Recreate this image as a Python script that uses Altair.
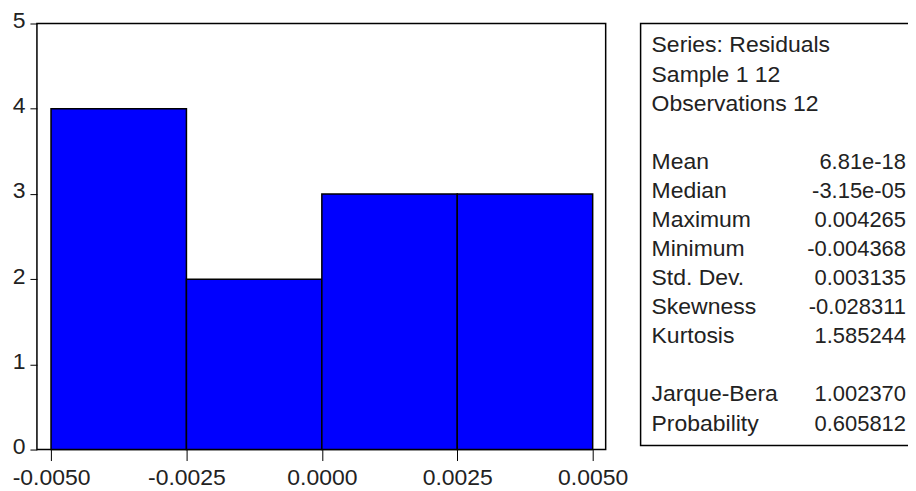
import altair as alt
import pandas as pd

# Histogram of residuals
bin_start = [-0.005, -0.0025, 0.0, 0.0025]
bin_end = [-0.0025, 0.0, 0.0025, 0.005]
counts = [4, 2, 3, 3]

x_ticks = [-0.005, -0.0025, 0.0, 0.0025, 0.005]
x_tick_labels = ["-0.0050", "-0.0025", "0.0000", "0.0025", "0.0050"]
y_ticks = [0, 1, 2, 3, 4, 5]

# Statistics panel
stat_labels = ["Series: Residuals", "Sample 1 12", "Observations 12",
               "Mean", "Median", "Maximum", "Minimum", "Std. Dev.",
               "Skewness", "Kurtosis", "Jarque-Bera", "Probability"]
stat_values = ["", "", "",
               "6.81e-18", "-3.15e-05", "0.004265", "-0.004368", "0.003135",
               "-0.028311", "1.585244", "1.002370", "0.605812"]
stat_rows = [0, 1, 2, 4, 5, 6, 7, 8, 9, 10, 12, 13]

FONT = "Liberation Sans"
FS = 23
TXT = "#222222"

hist_df = pd.DataFrame({"bin_start": bin_start, "bin_end": bin_end,
                        "count": counts, "base": [0] * len(counts)})
stats_df = pd.DataFrame({"label": stat_labels, "value": stat_values,
                         "row": stat_rows})

label_expr = "[{}][indexof([{}], datum.value)]".format(
    ",".join("'{}'".format(s) for s in x_tick_labels),
    ",".join(repr(v) for v in x_ticks))

hist = alt.Chart(hist_df).mark_rect(
    color="#0000FF", stroke="#000000", strokeWidth=1.5
).encode(
    x=alt.X("bin_start:Q",
            scale=alt.Scale(domain=[-0.00526, 0.00524], nice=False, zero=False),
            axis=alt.Axis(values=x_ticks, labelExpr=label_expr, title=None,
                          tickSize=11, labelPadding=6, domain=False, grid=False,
                          labelFlush=False, labelOverlap=False)),
    x2="bin_end:Q",
    y=alt.Y("count:Q",
            scale=alt.Scale(domain=[0, 5], nice=False),
            axis=alt.Axis(values=y_ticks, title=None, tickSize=7,
                          labelPadding=5, domain=False, grid=False,
                          labelFlush=False, labelOffset=-3, format="d")),
    y2="base:Q",
).properties(width=570, height=427)

base = alt.Chart(stats_df).encode(
    y=alt.Y("row:Q",
            scale=alt.Scale(domain=[-0.755, 13.755], reverse=True,
                            nice=False, zero=False),
            axis=None)
)
labels = base.mark_text(align="left", baseline="middle", font=FONT,
                        fontSize=FS, color=TXT).encode(
    x=alt.value(11), text="label:N")
values = base.mark_text(align="right", baseline="middle", font=FONT,
                        fontSize=22, color=TXT).encode(
    x=alt.value(266), text="value:N")
stats = alt.layer(labels, values).properties(width=276, height=423)

chart = alt.hconcat(hist, stats, spacing=35, bounds="flush").configure_view(
    stroke="black", strokeWidth=1.5
).configure_axis(
    labelFont=FONT, labelFontSize=FS, labelColor=TXT,
    tickColor="black", tickWidth=1
).properties(
    padding={"left": 3, "top": 0, "right": -9, "bottom": 0},
    background="white"
)

chart.save("out.html", embed_options={"renderer": "svg", "actions": False})
